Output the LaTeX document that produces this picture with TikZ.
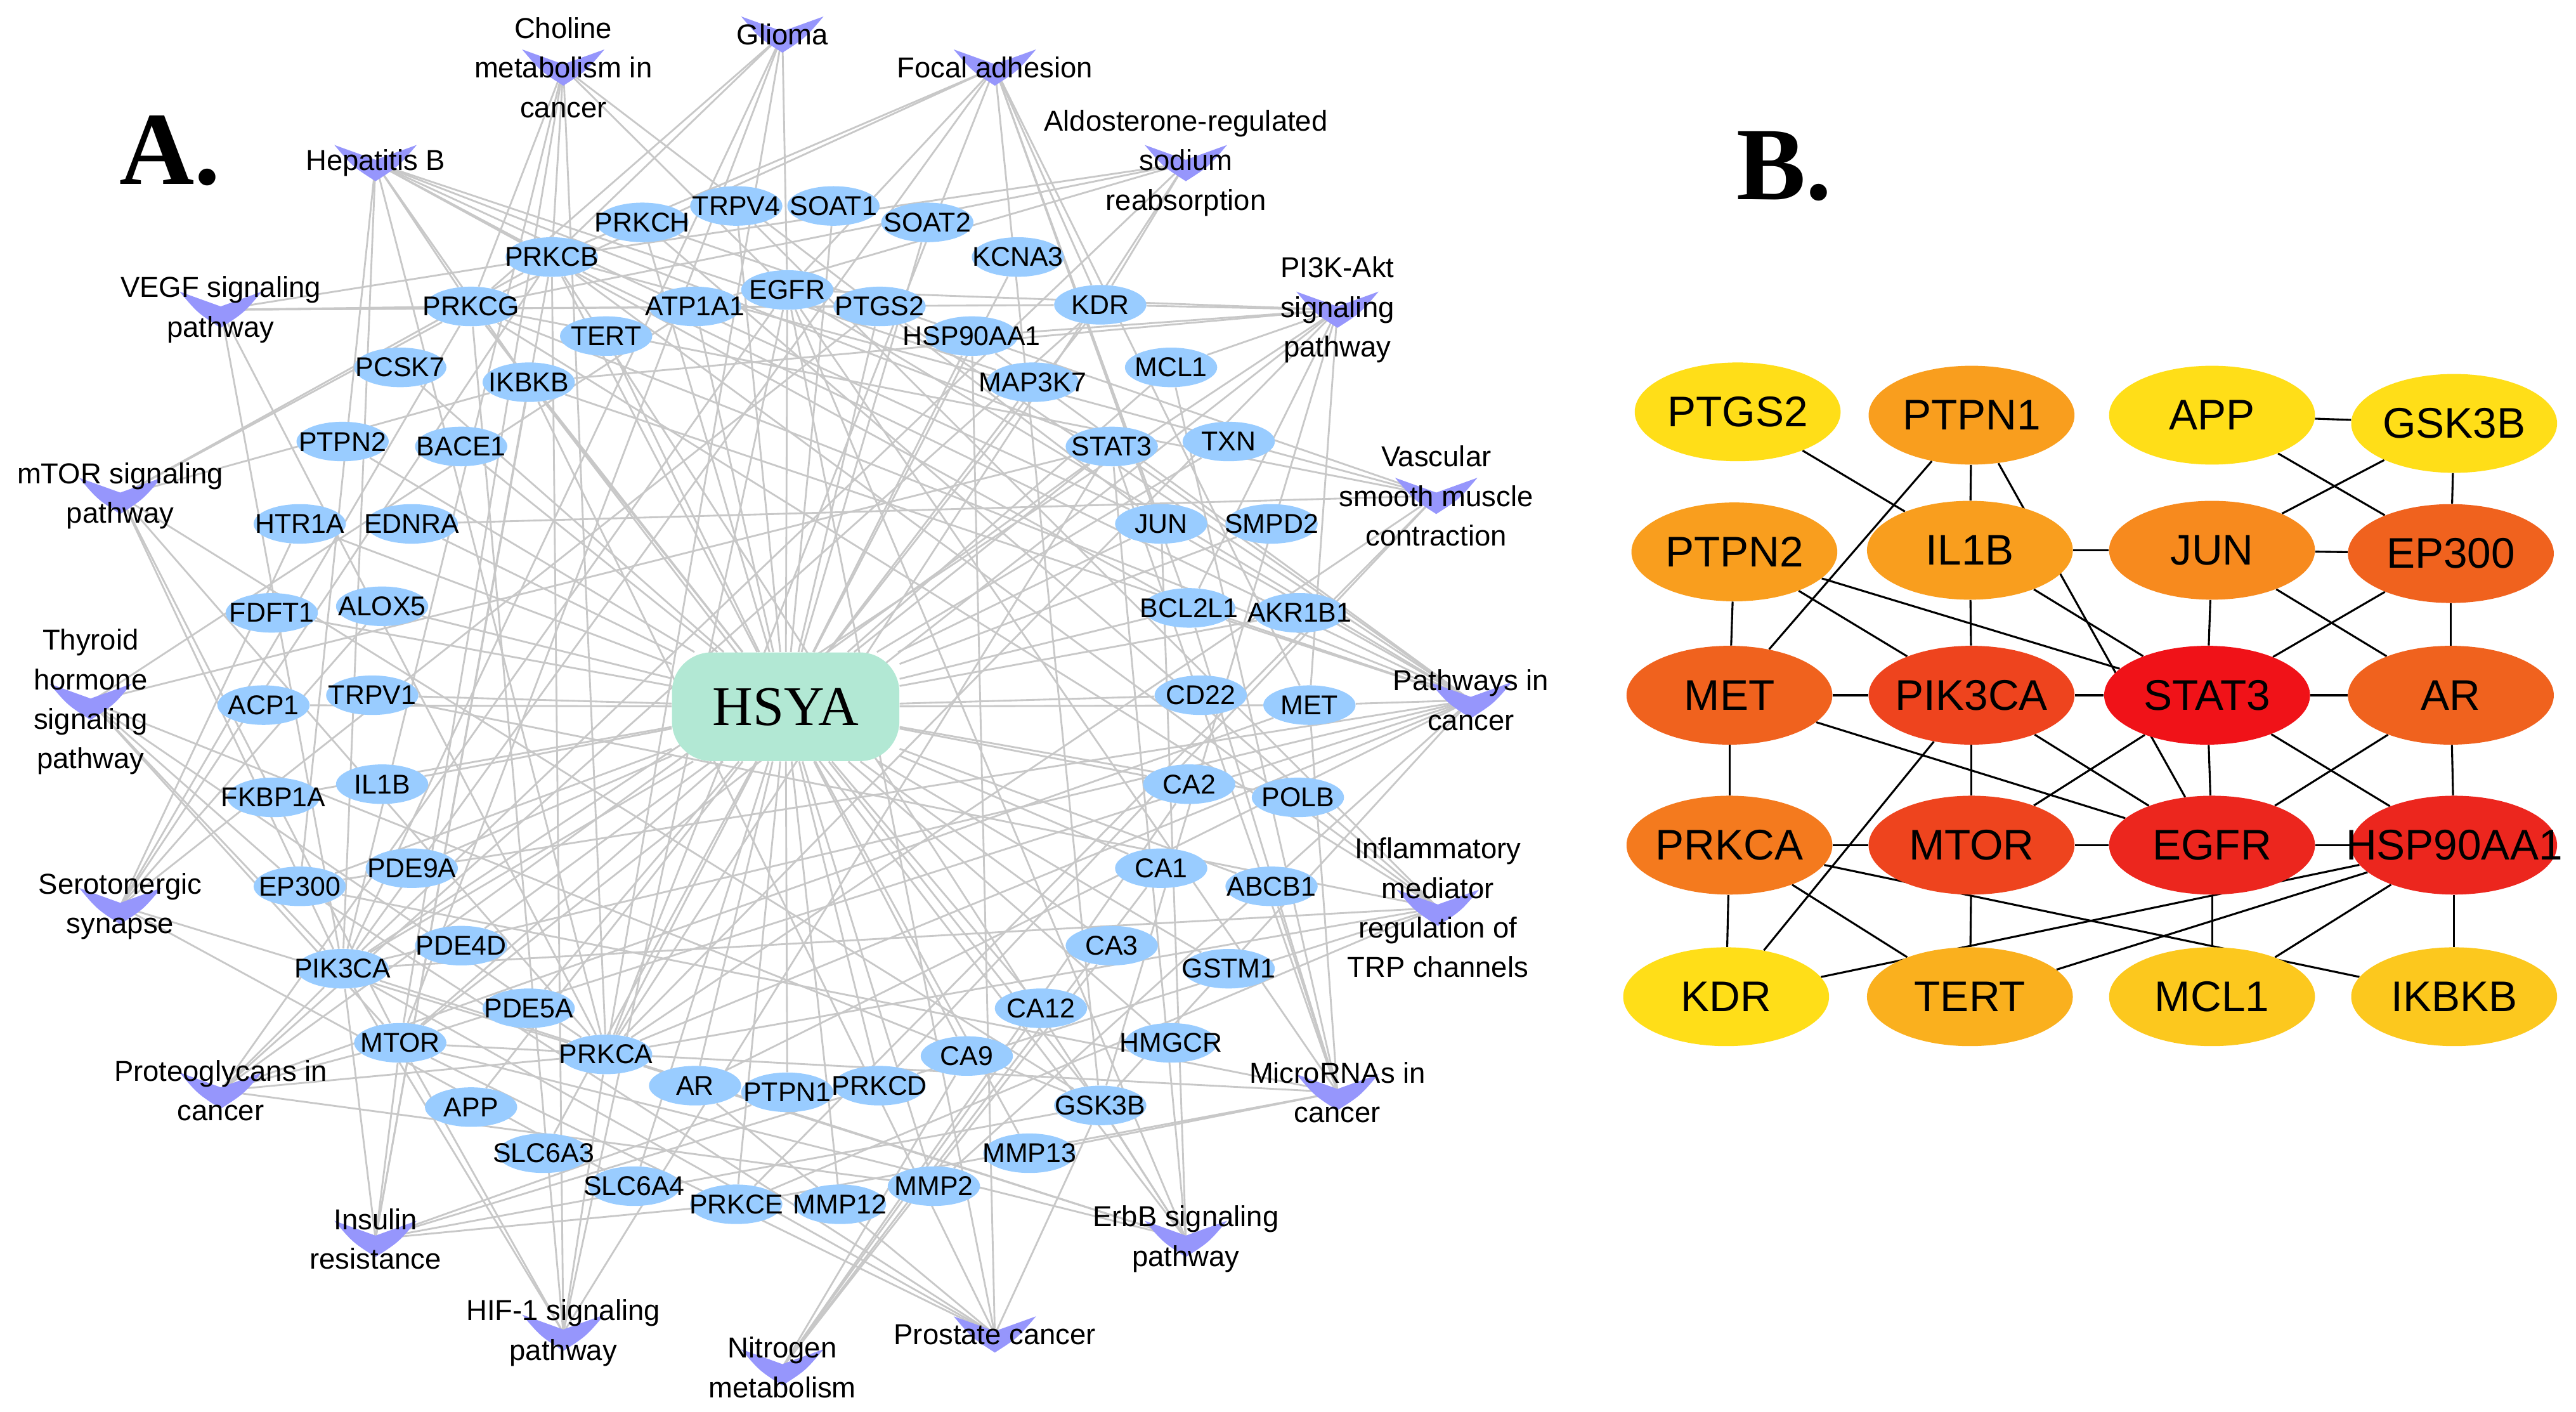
\documentclass[tikz,border=0pt]{standalone}
\usepackage{fontspec}
\setmainfont{Liberation Sans}
\newfontfamily\serifface{Liberation Serif}
\usetikzlibrary{shapes.geometric,backgrounds}
\definecolor{genefill}{RGB}{153,204,255}
\definecolor{hsyafill}{RGB}{178,232,212}
\definecolor{pwfill}{RGB}{150,150,252}
\definecolor{edgegrey}{RGB}{200,200,200}
\definecolor{degA}{RGB}{255,222,24}
\definecolor{degB}{RGB}{252,200,30}
\definecolor{degC}{RGB}{250,176,30}
\definecolor{degD}{RGB}{249,158,30}
\definecolor{degE}{RGB}{247,138,30}
\definecolor{degF}{RGB}{244,122,30}
\definecolor{degG}{RGB}{240,98,30}
\definecolor{degH}{RGB}{238,68,30}
\definecolor{degI}{RGB}{236,38,30}
\definecolor{degJ}{RGB}{240,18,24}
% pathway: V mark and its label
\newcommand{\pway}[4]{%
  \fill[pwfill] (#2-25,#3-11) -- (#2,#3-2) -- (#2+25,#3-11)
    .. controls (#2+14,#3+2) .. (#2,#3+11) .. controls (#2-14,#3+2) .. cycle;
  \node[pwlabel] (#1) at (#2,#3) {#4};}
\begin{document}
\begin{tikzpicture}[x=1pt,y=-1pt,
  gene/.style={ellipse,fill=genefill,inner sep=0pt,minimum width=56pt,minimum height=24pt,
    font=\fontsize{16.5}{18}\selectfont,
    execute at begin node={\hbox to 0pt\bgroup\hss},execute at end node={\hss\egroup}},
  hub/.style={ellipse,inner sep=0pt,minimum width=125pt,minimum height=60pt,
    font=\fontsize{26}{30}\selectfont,
    execute at begin node={\hbox to 0pt\bgroup\hss},execute at end node={\hss\egroup}},
  pwlabel/.style={align=center,inner sep=0pt,font=\fontsize{17.5}{24}\selectfont},
  hsyabox/.style={rectangle,rounded corners=24pt,fill=hsyafill,minimum width=138pt,
    minimum height=66pt,font=\serifface\fontsize{34}{36}\selectfont},
  panel/.style={anchor=base west,font=\serifface\bfseries\fontsize{63}{70}\selectfont},
  aedge/.style={draw=edgegrey,line width=1.1pt},
  bedge/.style={draw=black,line width=1.2pt}]
\useasboundingbox (0,0) rectangle (1564,857);
\node[panel] (lblA) at (69,112) {A.};
\node[panel] (lblB) at (1051,121) {B.};
% A: compound - target - pathway network
\node[hsyabox] (hsya) at (477,429) {HSYA};
\foreach \g/\x/\y in {PRKCH/390/135, TRPV4/447/125, SOAT1/506/125, SOAT2/563/135,
  PRKCB/335/156, KCNA3/618/156, PRKCG/286/186, ATP1A1/422/186, EGFR/478/176,
  PTGS2/534/186, KDR/668/185, TERT/368/204, HSP90AA1/590/204, PCSK7/243/223,
  IKBKB/321/232, MCL1/711/223, MAP3K7/627/232, PTPN2/208/268, BACE1/280/271,
  STAT3/675/271, TXN/746/268, HTR1A/182/318, EDNRA/250/318, JUN/705/318,
  SMPD2/772/318, FDFT1/165/372, ALOX5/232/368, BCL2L1/722/369, AKR1B1/789/372,
  ACP1/160/428, TRPV1/226/422, CD22/729/422, MET/795/428, FKBP1A/166/484,
  IL1B/232/476, CA2/722/476, POLB/788/484, EP300/182/538, PDE9A/250/527,
  CA1/705/527, ABCB1/772/538, PIK3CA/208/588, PDE4D/280/574, CA3/675/574,
  GSTM1/746/588, PDE5A/321/612, CA12/632/612, MTOR/243/633, HMGCR/711/633,
  PRKCA/368/640, CA9/587/641, AR/422/659, PTPN1/478/663, PRKCD/534/659,
  APP/286/672, GSK3B/668/671, SLC6A3/330/700, MMP13/625/700, SLC6A4/385/720,
  PRKCE/447/731, MMP12/510/731, MMP2/567/720}
  \node[gene] (\g) at (\x,\y) {\g};
\pway{cho}{342}{41}{Choline\\metabolism in\\cancer}
\pway{gli}{475}{21}{Glioma}
\pway{foc}{604}{41}{Focal adhesion}
\pway{ald}{720}{99}{Aldosterone-regulated\\sodium\\reabsorption}
\pway{hep}{228}{99}{Hepatitis B}
\pway{vegf}{134}{188}{VEGF signaling\\pathway}
\pway{pik}{812}{188}{PI3K-Akt\\signaling\\pathway}
\pway{mtp}{73}{301}{mTOR signaling\\pathway}
\pway{vsm}{872}{301}{Vascular\\smooth muscle\\contraction}
\pway{thy}{55}{426}{Thyroid\\hormone\\signaling\\pathway}
\pway{pic}{893}{425}{Pathways in\\cancer}
\pway{ser}{73}{550}{Serotonergic\\synapse}
\pway{trp}{873}{551}{Inflammatory\\mediator\\regulation of\\TRP channels}
\pway{pro}{134}{662}{Proteoglycans in\\cancer}
\pway{mir}{812}{663}{MicroRNAs in\\cancer}
\pway{ins}{228}{752}{Insulin\\resistance}
\pway{erb}{720}{752}{ErbB signaling\\pathway}
\pway{hif}{342}{809}{HIF-1 signaling\\pathway}
\pway{nit}{475}{830}{Nitrogen\\metabolism}
\pway{pca}{604}{810}{Prostate cancer}
\begin{pgfonlayer}{background}
\foreach \g in {PRKCH,TRPV4,SOAT1,SOAT2,PRKCB,KCNA3,PRKCG,ATP1A1,EGFR,PTGS2,KDR,TERT,
  HSP90AA1,PCSK7,IKBKB,MCL1,MAP3K7,PTPN2,BACE1,STAT3,TXN,HTR1A,EDNRA,JUN,SMPD2,
  FDFT1,ALOX5,BCL2L1,AKR1B1,ACP1,TRPV1,CD22,MET,FKBP1A,IL1B,CA2,POLB,EP300,PDE9A,
  CA1,ABCB1,PIK3CA,PDE4D,CA3,GSTM1,PDE5A,CA12,MTOR,HMGCR,PRKCA,CA9,AR,PTPN1,PRKCD,
  APP,GSK3B,SLC6A3,MMP13,SLC6A4,PRKCE,MMP12,MMP2}
  \draw[aedge] (hsya) -- (\g);
\foreach \p/\gl in {cho/{PRKCA,PRKCB,PRKCG,PIK3CA,MTOR,EGFR,JUN},
  gli/{EGFR,PIK3CA,MTOR,PRKCA,PRKCB,PRKCG},
  foc/{EGFR,PIK3CA,KDR,MET,GSK3B,JUN,PRKCA,PRKCB,PRKCG,BCL2L1},
  ald/{ATP1A1,PIK3CA,PRKCA,PRKCB,PRKCG,KDR},
  hep/{PRKCA,PRKCB,PRKCG,PIK3CA,STAT3,JUN,IKBKB,EP300,BCL2L1,MAP3K7},
  vegf/{PRKCA,PRKCB,PRKCG,PIK3CA,KDR,PTGS2},
  pik/{EGFR,KDR,MET,PIK3CA,MTOR,GSK3B,HSP90AA1,MCL1,BCL2L1,IKBKB,PRKCA},
  mtp/{PIK3CA,MTOR,GSK3B,IKBKB,PRKCA,PRKCB,PRKCG},
  vsm/{PRKCA,PRKCB,PRKCG,PRKCH,PRKCD,PRKCE,EDNRA},
  thy/{PIK3CA,MTOR,GSK3B,EP300,PRKCA,ATP1A1,STAT3},
  pic/{EGFR,STAT3,JUN,MET,PIK3CA,MTOR,GSK3B,HSP90AA1,IKBKB,PTGS2,AR,BCL2L1,EP300,MMP2,PRKCA,PRKCB,PRKCG},
  ser/{HTR1A,SLC6A4,PTGS2,ALOX5,PRKCA,PRKCB,PRKCG},
  trp/{TRPV1,TRPV4,PRKCA,PRKCB,PRKCG,PRKCE,PRKCD,PRKCH,PIK3CA},
  pro/{EGFR,MET,STAT3,PIK3CA,MTOR,PRKCA,MMP2,KDR},
  mir/{EGFR,STAT3,MET,MCL1,EP300,ABCB1,MTOR,PRKCE,BCL2L1,MMP13},
  ins/{PIK3CA,MTOR,GSK3B,IKBKB,PRKCB,PRKCE,PRKCD,PTPN1},
  erb/{EGFR,PIK3CA,MTOR,GSK3B,JUN,STAT3,PRKCA,PRKCB,PRKCG},
  hif/{EGFR,STAT3,PIK3CA,MTOR,PRKCA,PRKCB,PRKCG},
  nit/{CA1,CA2,CA3,CA9,CA12},
  pca/{EGFR,AR,PIK3CA,MTOR,GSK3B,HSP90AA1,EP300,IKBKB}}
  \foreach \g in \gl \draw[aedge] (\p.center) -- (\g);
\end{pgfonlayer}
% B: hub genes
\foreach \g/\x/\y/\c in {PTGS2/1055/250/degA, PTPN1/1197/252/degD, APP/1343/252/degA,
  GSK3B/1490/257/degA, PTPN2/1053/335/degD, IL1B/1196/334/degD, JUN/1343/334/degE,
  EP300/1488/336/degG, MET/1050/422/degG, PIK3CA/1197/422/degH, STAT3/1340/422/degJ,
  AR/1488/422/degG, PRKCA/1050/513/degF, MTOR/1197/513/degH, EGFR/1343/513/degI,
  HSP90AA1/1490/513/degI, KDR/1048/605/degA, TERT/1196/605/degC, MCL1/1343/605/degB,
  IKBKB/1490/605/degB}
  \node[hub,fill=\c] (b\g) at (\x,\y) {\g};
\begin{pgfonlayer}{background}
\foreach \a/\b in {PTGS2/IL1B, PTPN1/IL1B, PTPN1/MET, PTPN1/EGFR, APP/GSK3B, APP/EP300,
  GSK3B/JUN, GSK3B/EP300, PTPN2/MET, PTPN2/PIK3CA, PTPN2/STAT3, IL1B/JUN, IL1B/PIK3CA,
  IL1B/STAT3, JUN/EP300, JUN/STAT3, JUN/AR, EP300/STAT3, EP300/AR, MET/PIK3CA,
  MET/PRKCA, MET/EGFR, PIK3CA/STAT3, PIK3CA/MTOR, PIK3CA/EGFR, PIK3CA/KDR, STAT3/AR,
  STAT3/MTOR, STAT3/EGFR, STAT3/HSP90AA1, AR/EGFR, AR/HSP90AA1, PRKCA/MTOR, PRKCA/KDR,
  PRKCA/TERT, PRKCA/IKBKB, MTOR/EGFR, MTOR/TERT, EGFR/HSP90AA1, EGFR/MCL1,
  HSP90AA1/KDR, HSP90AA1/TERT, HSP90AA1/MCL1, HSP90AA1/IKBKB}
  \draw[bedge] (b\a) -- (b\b);
\end{pgfonlayer}
\end{tikzpicture}
\end{document}
